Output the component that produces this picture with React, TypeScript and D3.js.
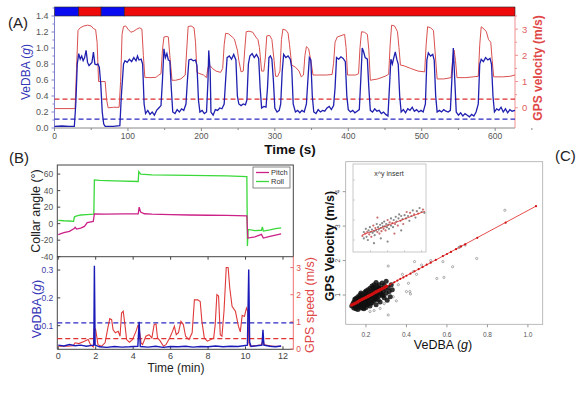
import React from 'react';
import * as d3 from 'd3';

type P = [number, number];

// ---------- Panel A data (time s, VeDBA g / GPS m/s) ----------
const stateBar = [
  { start: 0, end: 33, state: 'rest' },
  { start: 33, end: 63.5, state: 'move' },
  { start: 63.5, end: 95, state: 'rest' },
  { start: 95, end: 627, state: 'move' },
];

const vedbaA: P[] = [
  [0,0.02],[10,0.025],[20,0.02],[27,0.02],[29,0.3],[31,0.8],[33,0.93],[35,0.86],[37,0.9],[39,0.84],[41,0.88],[43,0.97],
  [45,0.82],[47,0.78],[49,0.8],[51,0.82],[53,0.95],[55,0.8],[57,0.79],[59,0.8],[61,0.76],[63,0.55],[65,0.2],[67,0.05],
  [69,0.02],[80,0.02],[89,0.03],[91,0.4],[94,0.8],[96,0.84],[99,0.82],[102,0.86],[105,0.83],[108,0.88],[111,0.84],
  [113,0.9],[115,0.85],[118,0.86],[120,0.8],[122,0.3],[124,0.18],[127,0.22],[130,0.17],[133,0.2],[136,0.16],[139,0.22],
  [142,0.25],[145,0.28],[147,0.6],[149,0.99],[151,0.88],[153,0.93],[155,0.85],[157,0.84],[159,0.5],[161,0.2],[164,0.18],
  [167,0.23],[170,0.2],[173,0.24],[176,0.22],[179,0.3],[181,0.6],[183,0.85],[186,0.86],[189,0.84],[192,0.85],[194,0.78],
  [196,0.35],[198,0.2],[201,0.22],[204,0.18],[207,0.2],[209,0.6],[210,0.97],[212,0.7],[213,0.2],[216,0.16],[219,0.23],
  [222,0.22],[225,0.25],[228,0.24],[231,0.3],[233,0.6],[235,0.88],[238,0.9],[241,0.86],[244,0.92],[247,0.85],[249,0.4],
  [251,0.3],[254,0.28],[257,0.3],[260,0.29],[262,0.35],[264,0.8],[266,0.9],[269,0.93],[272,0.88],[275,0.92],[278,0.87],
  [280,0.5],[282,0.25],[285,0.27],[288,0.26],[290,0.5],[292,0.88],[294,0.9],[296,0.86],[298,0.6],[300,0.25],[303,0.2],
  [306,0.22],[308,0.3],[310,0.7],[312,0.92],[315,0.88],[318,0.9],[321,0.86],[323,0.75],[325,0.3],[328,0.2],[331,0.22],
  [334,0.19],[337,0.22],[340,0.2],[343,0.3],[345,0.6],[347,0.88],[349,0.85],[351,0.4],[353,0.2],[356,0.18],[359,0.23],
  [362,0.2],[365,0.22],[368,0.21],[371,0.25],[374,0.27],[377,0.23],[380,0.28],[382,0.5],[384,0.88],[387,0.86],[390,0.89],
  [393,0.87],[396,0.83],[398,0.4],[400,0.23],[403,0.2],[406,0.22],[409,0.19],[412,0.21],[415,0.23],[417,0.6],[419,1.0],
  [421,0.95],[423,0.88],[426,0.86],[428,0.5],[430,0.22],[433,0.2],[436,0.24],[439,0.21],[442,0.22],[445,0.18],[448,0.2],
  [451,0.17],[454,0.15],[456,0.5],[458,0.86],[460,0.8],[462,0.88],[464,0.95],[466,0.86],[468,0.8],[470,0.4],[472,0.2],
  [475,0.23],[478,0.19],[481,0.24],[484,0.22],[487,0.26],[490,0.21],[493,0.23],[496,0.2],[499,0.22],[502,0.2],[505,0.3],
  [507,0.85],[509,0.94],[512,0.9],[515,0.92],[517,0.85],[519,0.4],[521,0.2],[524,0.22],[527,0.2],[530,0.23],[533,0.21],
  [536,0.2],[539,0.22],[541,0.6],[543,1.0],[545,0.6],[547,0.2],[550,0.16],[553,0.19],[556,0.15],[559,0.18],[562,0.16],
  [565,0.14],[568,0.17],[571,0.15],[574,0.2],[577,0.3],[579,0.8],[581,0.86],[584,0.83],[587,0.88],[590,0.85],[593,0.87],
  [595,0.8],[597,0.4],[599,0.2],[602,0.24],[605,0.22],[608,0.26],[611,0.2],[614,0.24],[617,0.19],[620,0.23],[623,0.21],[627,0.22],
];

const gpsA: P[] = [
  [0,-0.03],[28,-0.03],[30,1.5],[32,2.95],[35,3.05],[40,3.12],[45,3.15],[50,3.12],[53,3.02],[56,2.98],[58,2.5],[60,1.0],
  [69,1.0],[71,0.3],[73,0.0],[80,0.02],[88,0.02],[90,1.0],[92,2.8],[94,3.1],[97,3.12],[100,3.0],[104,2.88],[108,2.92],
  [112,3.0],[116,3.05],[119,3.0],[121,2.0],[123,1.16],[130,1.15],[138,1.16],[142,1.25],[145,1.3],[147,2.2],[149,2.7],
  [153,2.72],[155,2.7],[157,2.0],[160,1.05],[165,1.05],[172,1.1],[178,1.25],[180,2.2],[182,3.1],[186,3.12],[190,3.05],
  [192,2.5],[194,1.35],[198,1.3],[203,1.25],[207,1.15],[209,1.55],[212,1.6],[215,1.5],[220,1.4],[226,1.35],[229,1.5],
  [231,2.4],[233,2.84],[237,2.82],[242,2.7],[245,2.62],[247,2.4],[249,2.2],[251,1.8],[254,1.37],[257,1.4],[259,2.2],
  [261,2.9],[265,2.92],[270,2.88],[274,2.7],[277,2.6],[279,2.3],[282,1.4],[285,1.4],[287,1.9],[289,2.74],[293,2.76],
  [296,2.6],[299,1.8],[301,1.2],[304,1.2],[307,1.4],[309,2.6],[311,3.0],[315,2.96],[318,2.85],[320,2.4],[323,1.63],
  [328,1.55],[333,1.4],[336,1.18],[339,1.25],[341,2.0],[343,2.33],[346,2.25],[349,1.8],[352,1.25],[360,1.25],[370,1.25],
  [378,1.27],[380,1.7],[382,2.5],[385,2.7],[390,2.75],[395,2.8],[397,2.3],[399,1.25],[405,1.25],[410,1.25],[414,1.3],
  [416,2.3],[418,2.9],[422,2.88],[426,2.8],[428,2.2],[430,1.05],[440,1.1],[450,1.2],[455,1.28],[457,2.4],[459,3.15],
  [463,3.12],[467,2.9],[469,2.3],[471,1.63],[476,1.6],[485,1.5],[495,1.4],[504,1.37],[506,2.4],[508,3.09],[512,3.05],
  [516,2.95],[518,2.2],[521,1.1],[530,1.1],[540,1.15],[542,1.8],[544,2.2],[546,1.8],[548,1.15],[560,1.15],[570,1.18],
  [577,1.2],[579,2.4],[581,3.09],[585,3.0],[588,2.9],[591,2.6],[594,2.5],[596,1.8],[598,1.18],[610,1.18],[620,1.2],[627,1.25],
];

const aTimeTicks = [0, 100, 200, 300, 400, 500, 600];
const aVedbaTicks = [0, 0.2, 0.4, 0.6, 0.8, 1.0, 1.2, 1.4];
const aGpsTicks = [0, 1, 2, 3];
const aVedbaThreshold = 0.11;
const aGpsThreshold = 0.33;

// ---------- Panel B data (time min) ----------
const roll: P[] = [
  [0,4],[0.3,3.5],[0.6,3.2],[0.82,2.8],[0.86,8],[0.95,9],[1.2,10.5],[1.5,11],[1.9,11.5],[1.93,53],[2.2,52.5],[3,51.8],
  [4.27,51],[4.3,63],[4.4,60],[5,59],[6,58.8],[7,58.5],[8,58.2],[9,57.8],[10.07,57],[10.1,-27],[10.14,-7],[10.5,-8.5],
  [10.85,-8],[10.9,-4],[10.95,-9],[11.3,-7.5],[11.6,-6],[11.9,-5],
];
const pitch: P[] = [
  [0,-13.3],[0.3,-11],[0.6,-9.3],[0.85,-6],[0.9,-4.5],[0.98,-6.5],[1.2,-5.5],[1.4,-3.3],[1.55,1.2],[1.87,2.8],
  [1.93,11.7],[2.5,11.5],[3.5,11.8],[4.27,11.8],[4.32,20],[4.4,14],[4.6,12],[5,11.5],[6,11],[7,10.5],[8,10.2],[9,10],
  [10.07,9.5],[10.12,-17.4],[10.5,-16],[10.85,-13],[10.95,-17.4],[11.3,-15.5],[11.6,-14],[11.9,-12.5],
];
const vedbaB: P[] = [
  [0,0.03],[0.3,0.027],[0.6,0.032],[0.9,0.028],[1.2,0.03],[1.5,0.026],[1.8,0.029],[1.9,0.03],[1.93,0.315],[1.97,0.03],
  [2.2,0.024],[2.6,0.022],[3.0,0.025],[3.4,0.023],[3.8,0.024],[4.25,0.026],[4.32,0.114],[4.38,0.025],[4.8,0.023],
  [5.2,0.026],[5.6,0.022],[6.0,0.025],[6.4,0.024],[6.8,0.026],[7.2,0.023],[7.6,0.025],[8.0,0.024],[8.4,0.027],[8.8,0.024],
  [9.2,0.026],[9.6,0.025],[10.1,0.03],[10.17,0.302],[10.22,0.04],[10.3,0.025],[10.6,0.028],[10.88,0.03],[10.93,0.085],
  [10.98,0.03],[11.3,0.026],[11.6,0.024],[11.9,0.027],
];
const gpsB: P[] = [
  [0,0.1],[0.5,0.1],[0.8,0.12],[0.9,0.23],[1.1,0.2],[1.4,0.29],[1.6,0.35],[1.72,0.16],[1.87,0.08],[1.93,0.78],[2.0,0.71],
  [2.12,0.16],[2.3,0.1],[2.5,0.23],[2.65,0.78],[2.75,1.12],[2.85,1.08],[2.93,0.71],[3.05,0.6],[3.2,0.65],[3.3,0.47],
  [3.38,1.33],[3.47,1.39],[3.56,0.9],[3.65,0.35],[3.8,0.25],[3.97,0.35],[4.15,0.65],[4.27,0.9],[4.35,0.6],[4.42,0.23],
  [4.5,0.16],[4.68,0.47],[4.85,0.53],[5.0,0.41],[5.12,0.9],[5.22,0.92],[5.3,0.41],[5.45,0.29],[5.62,0.1],[5.75,0.16],
  [5.95,0.41],[6.1,0.65],[6.2,0.84],[6.3,0.53],[6.42,0.6],[6.55,1.02],[6.68,0.9],[6.8,0.47],[6.98,0.35],[7.15,0.6],
  [7.27,1.81],[7.45,1.81],[7.58,1.75],[7.67,1.02],[7.8,0.41],[7.96,0.29],[8.15,0.35],[8.3,0.41],[8.38,0.9],[8.47,2.0],
  [8.56,1.95],[8.65,0.53],[8.74,0.47],[8.85,1.39],[8.97,3.0],[9.07,3.0],[9.16,2.24],[9.28,1.57],[9.46,1.39],[9.62,0.84],
  [9.72,0.63],[9.82,1.24],[9.94,1.2],[10.05,1.51],[10.12,1.39],[10.18,0.23],[10.25,0.1],[10.6,0.13],[10.85,0.16],
  [10.93,0.35],[11.0,0.16],[11.45,0.1],[11.9,0.1],
];
const bTimeTicks = [0, 2, 4, 6, 8, 10, 12];
const bAngleTicks = [-40, -20, 0, 20, 40, 60];
const bVedbaTicks = [0.1, 0.2, 0.3];
const bGpsTicks = [0, 1, 2, 3];
const bVedbaThreshold = 0.11;
const bGpsThreshold = 0.38;

// ---------- Panel C data (VeDBA g vs GPS m/s) ----------
const clusterPts: P[] = [
  [0.13,0.68],[0.135,0.74],[0.14,0.62],[0.14,0.8],[0.145,0.71],[0.145,0.88],[0.15,0.6],[0.15,0.76],[0.15,0.9],[0.155,0.68],
  [0.155,0.83],[0.16,0.58],[0.16,0.72],[0.16,0.95],[0.165,0.79],[0.165,0.66],[0.17,0.86],[0.17,0.7],[0.17,1.0],[0.175,0.62],
  [0.175,0.77],[0.175,0.92],[0.18,0.83],[0.18,0.68],[0.18,1.02],[0.185,0.74],[0.185,0.9],[0.19,0.6],[0.19,0.8],[0.19,0.97],
  [0.195,0.86],[0.195,0.7],[0.195,1.08],[0.2,0.78],[0.2,0.93],[0.2,1.12],[0.2,0.64],[0.205,0.85],[0.205,1.0],[0.21,0.74],
  [0.21,0.9],[0.21,1.15],[0.215,0.82],[0.215,1.05],[0.22,0.68],[0.22,0.96],[0.22,1.2],[0.225,0.88],[0.225,1.1],[0.23,0.78],
  [0.23,1.0],[0.23,1.26],[0.235,0.92],[0.235,1.15],[0.24,0.84],[0.24,1.05],[0.24,1.3],[0.245,0.98],[0.245,1.2],[0.25,0.72],
  [0.25,0.9],[0.25,1.12],[0.25,1.36],[0.255,1.02],[0.255,1.25],[0.26,0.86],[0.26,1.16],[0.265,0.98],[0.265,1.3],[0.27,1.08],
  [0.27,0.8],[0.275,1.2],[0.28,1.0],[0.28,1.35],[0.285,1.12],[0.29,0.92],[0.29,1.28],[0.295,1.18],[0.3,1.05],[0.3,1.4],
  [0.305,0.85],[0.31,1.22],[0.315,1.1],[0.32,0.95],[0.325,1.3],[0.33,1.15],[0.14,0.75],[0.15,0.8],[0.16,0.82],[0.17,0.8],
  [0.18,0.88],[0.19,0.9],[0.2,0.95],[0.21,0.97],[0.22,1.0],[0.23,1.03],[0.24,1.06],[0.25,1.05],[0.26,1.1],[0.27,1.15],
  [0.165,0.9],[0.185,0.62],[0.205,0.72],[0.225,0.76],[0.245,0.88],[0.175,1.06],[0.195,0.76],[0.215,0.94],[0.235,1.22],
  [0.155,0.64],[0.255,0.96],[0.275,1.05],[0.285,0.98],[0.265,1.2],[0.145,0.66],[0.16,0.88],[0.2,1.04],[0.24,0.94],
];
const outlierPts: P[] = [
  [0.31,1.84],[0.31,0.42],[0.27,0.61],[0.335,0.95],[0.41,1.34],[0.4,1.1],[0.417,1.1],[0.42,1.03],[0.44,1.97],[0.434,1.68],
  [0.475,1.87],[0.45,1.6],[0.55,1.48],[0.585,1.51],[0.58,1.97],[0.628,1.82],[0.664,2.4],[0.747,2.06],[0.886,3.46],
  [0.69,2.45],[0.66,2.38],[0.24,0.55],[0.22,0.52],[0.29,0.75],[0.35,0.83],[0.38,1.6],[0.52,2.0],[0.36,1.3],
];
const fittedPts: P[] = [
  [0.13,0.71],[0.14,0.74],[0.15,0.77],[0.16,0.8],[0.17,0.84],[0.18,0.87],[0.19,0.9],[0.2,0.93],[0.21,0.96],[0.22,0.99],
  [0.23,1.02],[0.24,1.06],[0.25,1.09],[0.26,1.12],[0.27,1.15],[0.28,1.18],[0.29,1.21],[0.3,1.25],[0.32,1.31],[0.34,1.37],
  [0.355,1.42],[0.37,1.47],[0.385,1.51],[0.4,1.56],[0.42,1.62],[0.44,1.69],[0.46,1.75],[0.48,1.81],[0.5,1.88],[0.52,1.94],
  [0.545,2.02],[0.58,2.13],[0.6,2.19],[0.62,2.25],[0.645,2.33],[0.67,2.41],[0.69,2.47],[0.75,2.66],[0.89,3.1],[1.04,3.58],
];
const fitLine: P[] = [[0.13, 0.71], [1.04, 3.58]];
const cXTicks = [0.2, 0.4, 0.6, 0.8, 1.0];
const cYTicks = [1, 2, 3, 4];

// inset (x^y insert), unitless
const insetPts: P[] = [
  [0.08,0.15],[0.1,0.2],[0.1,0.12],[0.12,0.18],[0.13,0.24],[0.14,0.14],[0.15,0.2],[0.16,0.1],[0.17,0.22],[0.18,0.17],
  [0.19,0.26],[0.2,0.2],[0.21,0.14],[0.22,0.23],[0.23,0.19],[0.24,0.28],[0.25,0.21],[0.26,0.16],[0.27,0.25],[0.28,0.22],
  [0.29,0.3],[0.3,0.2],[0.31,0.26],[0.32,0.23],[0.33,0.18],[0.34,0.29],[0.35,0.25],[0.36,0.21],[0.37,0.31],[0.38,0.27],
  [0.39,0.24],[0.4,0.33],[0.41,0.27],[0.42,0.22],[0.43,0.3],[0.44,0.26],[0.45,0.35],[0.46,0.29],[0.47,0.24],[0.48,0.32],
  [0.5,0.28],[0.5,0.37],[0.52,0.31],[0.53,0.26],[0.54,0.35],[0.56,0.3],[0.57,0.39],[0.58,0.33],[0.6,0.28],[0.61,0.37],
  [0.62,0.42],[0.64,0.34],[0.65,0.4],[0.67,0.36],[0.68,0.3],[0.7,0.41],[0.72,0.37],[0.73,0.45],[0.75,0.4],[0.77,0.34],
  [0.78,0.44],[0.8,0.4],[0.82,0.47],[0.84,0.42],[0.86,0.38],[0.88,0.46],[0.9,0.43],[0.92,0.5],[0.95,0.45],[0.97,0.48],
  [0.99,0.44],[0.35,0.12],[0.55,0.18],[0.45,0.08],[0.65,0.22],[0.3,0.38],[0.25,0.06],
];
const insetFit: P[] = [[0.07, 0.16], [1.0, 0.46]];
const insetXTicks = [0.2, 0.45, 0.7, 0.95];
const insetYTicks = [0.1, 0.35, 0.6, 0.85];

const FONT = "'Liberation Sans', Arial, sans-serif";

const VedbaLabel: React.FC<any> = (props) => (
  <text {...props}>
    VeDBA (<tspan fontStyle="italic">g</tspan>)
  </text>
);

const App: React.FC = () => {
  // Panel A scales
  const xA = d3.scaleLinear().domain([0, 627]).range([54.5, 515]);
  const yAv = d3.scaleLinear().domain([0, 1.4]).range([128, 16]);
  const yAg = d3.scaleLinear().domain([-0.77, 3.5]).range([128, 16]);
  const lineAv = d3.line<P>().x(d => xA(d[0])).y(d => yAv(d[1]));
  const lineAg = d3.line<P>().x(d => xA(d[0])).y(d => yAg(d[1]));

  // Panel B scales
  const xB = d3.scaleLinear().domain([-0.05, 12.55]).range([57.3, 293.3]);
  const yAng = d3.scaleLinear().domain([-40, 71]).range([256.7, 165]);
  const yBv = d3.scaleLinear().domain([0.015, 0.348]).range([349.3, 256.7]);
  const yBg = d3.scaleLinear().domain([-0.01, 3.4]).range([349.3, 256.7]);
  const lineAng = d3.line<P>().x(d => xB(d[0])).y(d => yAng(d[1]));
  const lineBv = d3.line<P>().x(d => xB(d[0])).y(d => yBv(d[1]));
  const lineBg = d3.line<P>().x(d => xB(d[0])).y(d => yBg(d[1]));

  // Panel C scales
  const xC = d3.scaleLinear().domain([0.1, 1.073]).range([345.7, 542.7]);
  const yC = d3.scaleLinear().domain([0.15, 4.87]).range([324.3, 161.7]);
  const lineC = d3.line<P>().x(d => xC(d[0])).y(d => yC(d[1]));
  const xI = d3.scaleLinear().domain([0, 1]).range([357, 425]);
  const yI = d3.scaleLinear().domain([0, 1]).range([248, 168]);
  const lineI = d3.line<P>().x(d => xI(d[0])).y(d => yI(d[1]));

  const blueA = '#1f1fb0';
  const redA = '#d9504f';

  return (
    <svg width={586} height={395} style={{ position: 'absolute', left: 0, top: 0, background: '#fff' }}
      fontFamily={FONT}>
      {/* ================= Panel A ================= */}
      <text x={8} y={28} fontSize={15} fill="#222">(A)</text>
      {stateBar.map((s, i) => (
        <rect key={i} x={xA(s.start)} y={7} width={xA(s.end) - xA(s.start)} height={9}
          fill={s.state === 'rest' ? '#0b0bf2' : '#ee0a0a'} stroke="#222" strokeWidth={0.6} />
      ))}
      <line x1={xA(0)} x2={xA(627)} y1={128} y2={128} stroke="#888" />
      <line x1={xA(0)} x2={xA(0)} y1={16} y2={128} stroke="#8080d0" />
      <line x1={xA(627)} x2={xA(627)} y1={16} y2={128} stroke="#f09090" />
      {aTimeTicks.map(t => (
        <g key={t}>
          <line x1={xA(t)} x2={xA(t)} y1={128} y2={131} stroke="#888" />
          <text x={xA(t)} y={138.5} fontSize={8.5} fill="#555" textAnchor="middle">{t}</text>
        </g>
      ))}
      {aTimeTicks.map(t => (
        <line key={'m' + t} x1={xA(t + 50)} x2={xA(t + 50)} y1={128} y2={130} stroke="#888" />
      ))}
      {aVedbaTicks.map(v => (
        <g key={v}>
          <line x1={xA(0) - 3} x2={xA(0)} y1={yAv(v)} y2={yAv(v)} stroke="#8080d0" />
          <line x1={xA(0) - 2} x2={xA(0)} y1={yAv(v + 0.1)} y2={yAv(v + 0.1)} stroke="#8080d0" />
          <text x={xA(0) - 6} y={yAv(v) + 3} fontSize={9} fill="#555" textAnchor="end">{v.toFixed(1)}</text>
        </g>
      ))}
      {aGpsTicks.map(v => (
        <g key={v}>
          <line x1={xA(627)} x2={xA(627) + 3} y1={yAg(v)} y2={yAg(v)} stroke="#f09090" />
          <line x1={xA(627)} x2={xA(627) + 2} y1={yAg(v + 0.5)} y2={yAg(v + 0.5)} stroke="#f09090" />
          <text x={xA(627) + 7} y={yAg(v) + 3.5} fontSize={9.5} fill="#e06060">{v}</text>
        </g>
      ))}
      <line x1={xA(0)} x2={xA(627)} y1={yAg(aGpsThreshold)} y2={yAg(aGpsThreshold)} stroke="#e03030"
        strokeWidth={1.2} strokeDasharray="5,3" />
      <line x1={xA(0)} x2={xA(627)} y1={yAv(aVedbaThreshold)} y2={yAv(aVedbaThreshold)} stroke="#2a2ac0"
        strokeWidth={1.2} strokeDasharray="5,3" />
      <path d={lineAg(gpsA) || ''} fill="none" stroke={redA} strokeWidth={1} />
      <path d={lineAv(vedbaA) || ''} fill="none" stroke={blueA} strokeWidth={1.3} />
      <VedbaLabel x={0} y={0} fontSize={12} fill="#3535b8" textAnchor="middle"
        transform="translate(30,72) rotate(-90)" />
      <text x={0} y={0} fontSize={12} fontWeight="bold" fill="#e04848" textAnchor="middle"
        transform="translate(542,68) rotate(-90)">GPS velocity (m/s)</text>
      <text x={290} y={154} fontSize={13.5} fontWeight="bold" fill="#111" textAnchor="middle">Time (s)</text>

      {/* ================= Panel B ================= */}
      <text x={9} y={163} fontSize={15} fill="#222">(B)</text>
      <rect x={xB(-0.05)} y={165} width={xB(12.55) - xB(-0.05)} height={256.7 - 165} fill="none" stroke="#444" />
      <line x1={xB(-0.05)} x2={xB(-0.05)} y1={256.7} y2={349.3} stroke="#444" />
      <line x1={xB(-0.05)} x2={xB(12.55)} y1={349.3} y2={349.3} stroke="#444" />
      <line x1={xB(12.55)} x2={xB(12.55)} y1={256.7} y2={349.3} stroke="#ee7070" />
      {bAngleTicks.map(v => (
        <g key={v}>
          <line x1={xB(-0.05)} x2={xB(-0.05) + 3} y1={yAng(v)} y2={yAng(v)} stroke="#444" />
          <text x={xB(-0.05) - 4} y={yAng(v) + 3} fontSize={8.5} fill="#555" textAnchor="end">{v}</text>
        </g>
      ))}
      {bTimeTicks.map(t => (
        <g key={t}>
          <line x1={xB(t)} x2={xB(t)} y1={349.3} y2={346.3} stroke="#444" />
          <line x1={xB(t)} x2={xB(t)} y1={256.7} y2={259.7} stroke="#444" />
          <text x={xB(t)} y={359} fontSize={9} fill="#444" textAnchor="middle">{t}</text>
        </g>
      ))}
      {bVedbaTicks.map(v => (
        <g key={v}>
          <line x1={xB(-0.05)} x2={xB(-0.05) + 3} y1={yBv(v)} y2={yBv(v)} stroke="#444" />
          <text x={xB(-0.05) - 4} y={yBv(v) + 3} fontSize={8.5} fill="#4040a8" textAnchor="end">{v.toFixed(1)}</text>
        </g>
      ))}
      {bGpsTicks.map(v => (
        <g key={v}>
          <line x1={xB(12.55) - 3} x2={xB(12.55)} y1={yBg(v)} y2={yBg(v)} stroke="#ee7070" />
          <text x={xB(12.55) + 3} y={yBg(v) + 3} fontSize={8.5} fill="#e05050">{v}</text>
        </g>
      ))}
      <path d={lineAng(roll) || ''} fill="none" stroke="#3ad83a" strokeWidth={1.3} />
      <path d={lineAng(pitch) || ''} fill="none" stroke="#cc2288" strokeWidth={1.3} />
      <rect x={253} y={167} width={37} height={21} fill="#fff" stroke="#555" strokeWidth={0.7} />
      <line x1={256} x2={269} y1={172.5} y2={172.5} stroke="#cc2288" strokeWidth={1.3} />
      <text x={271} y={175} fontSize={7.5} fill="#333">Pitch</text>
      <line x1={256} x2={269} y1={181.5} y2={181.5} stroke="#3ad83a" strokeWidth={1.3} />
      <text x={271} y={184} fontSize={7.5} fill="#333">Roll</text>

      <line x1={xB(-0.05)} x2={xB(12.55)} y1={yBv(bVedbaThreshold)} y2={yBv(bVedbaThreshold)} stroke="#2a2ac0"
        strokeWidth={1.2} strokeDasharray="5,3" />
      <line x1={xB(-0.05)} x2={xB(12.55)} y1={yBg(bGpsThreshold)} y2={yBg(bGpsThreshold)} stroke="#e03030"
        strokeWidth={1.2} strokeDasharray="5,3" />
      <path d={lineBg(gpsB) || ''} fill="none" stroke="#e03a3a" strokeWidth={1.1} />
      <path d={lineBv(vedbaB) || ''} fill="none" stroke="#1a1ab8" strokeWidth={1.4} />

      <text x={0} y={0} fontSize={12.5} fill="#222" textAnchor="middle"
        transform="translate(40,211) rotate(-90)">Collar angle (°)</text>
      <VedbaLabel x={0} y={0} fontSize={12.5} fill="#3535b8" textAnchor="middle"
        transform="translate(41,309) rotate(-90)" />
      <text x={0} y={0} fontSize={12.5} fill="#e04848" textAnchor="middle"
        transform="translate(314,305) rotate(-90)">GPS speed (m/s)</text>
      <text x={176} y={372} fontSize={12} fill="#222" textAnchor="middle">Time (min)</text>

      {/* ================= Panel C ================= */}
      <text x={555} y={161} fontSize={15} fill="#222">(C)</text>
      <rect x={xC(0.1)} y={yC(4.87)} width={xC(1.073) - xC(0.1)} height={yC(0.15) - yC(4.87)}
        fill="#fff" stroke="#aaa" strokeWidth={0.8} />
      {cXTicks.map(v => (
        <g key={v}>
          <line x1={xC(v)} x2={xC(v)} y1={yC(0.15)} y2={yC(0.15) + 3} stroke="#999" />
          <text x={xC(v)} y={337} fontSize={6.5} fill="#555" textAnchor="middle">{v.toFixed(1)}</text>
        </g>
      ))}
      {cYTicks.map(v => (
        <g key={v}>
          <line x1={xC(0.1) - 3} x2={xC(0.1)} y1={yC(v)} y2={yC(v)} stroke="#999" />
          <text x={0} y={0} fontSize={6.5} fill="#555" textAnchor="middle"
            transform={`translate(${xC(0.1) - 6},${yC(v)}) rotate(-90)`}>{v}</text>
        </g>
      ))}
      {outlierPts.map((d, i) => (
        <circle key={'o' + i} cx={xC(d[0])} cy={yC(d[1])} r={1.1} fill="none" stroke="#777" strokeWidth={0.6} />
      ))}
      {clusterPts.map((d, i) => (
        <circle key={'c' + i} cx={xC(d[0])} cy={yC(d[1])} r={2.5} fill="#111" fillOpacity={0.85} />
      ))}
      <path d={lineC(fitLine) || ''} fill="none" stroke="#e02020" strokeWidth={0.8} />
      {fittedPts.map((d, i) => (
        <circle key={'f' + i} cx={xC(d[0])} cy={yC(d[1])} r={i < 18 ? 1.8 : 1.1} fill="#d01010" />
      ))}
      {/* inset */}
      <rect x={353} y={164} width={73} height={88} fill="#fff" stroke="#bbb" strokeWidth={0.8} />
      {insetXTicks.map(v => (
        <line key={v} x1={xI(v)} x2={xI(v)} y1={250} y2={252} stroke="#bbb" strokeWidth={0.6} />
      ))}
      {insetYTicks.map(v => (
        <line key={v} x1={353} x2={355} y1={yI(v)} y2={yI(v)} stroke="#bbb" strokeWidth={0.6} />
      ))}
      {insetPts.map((d, i) => (
        <circle key={'i' + i} cx={xI(d[0])} cy={yI(d[1])} r={1.1}
          fill={i % 3 === 0 ? '#b03030' : '#555'} fillOpacity={0.7} />
      ))}
      <path d={lineI(insetFit) || ''} fill="none" stroke="#e03030" strokeWidth={0.8} />
      <text x={389} y={176} fontSize={7} fill="#333" textAnchor="middle">x^y insert</text>

      <VedbaLabel x={443} y={349} fontSize={12.5} fill="#111" textAnchor="middle" />
      <text x={0} y={0} fontSize={12.5} fontWeight="bold" fill="#111" textAnchor="middle"
        transform="translate(334,246) rotate(-90)">GPS Velocity (m/s)</text>
    </svg>
  );
};

export default App;
